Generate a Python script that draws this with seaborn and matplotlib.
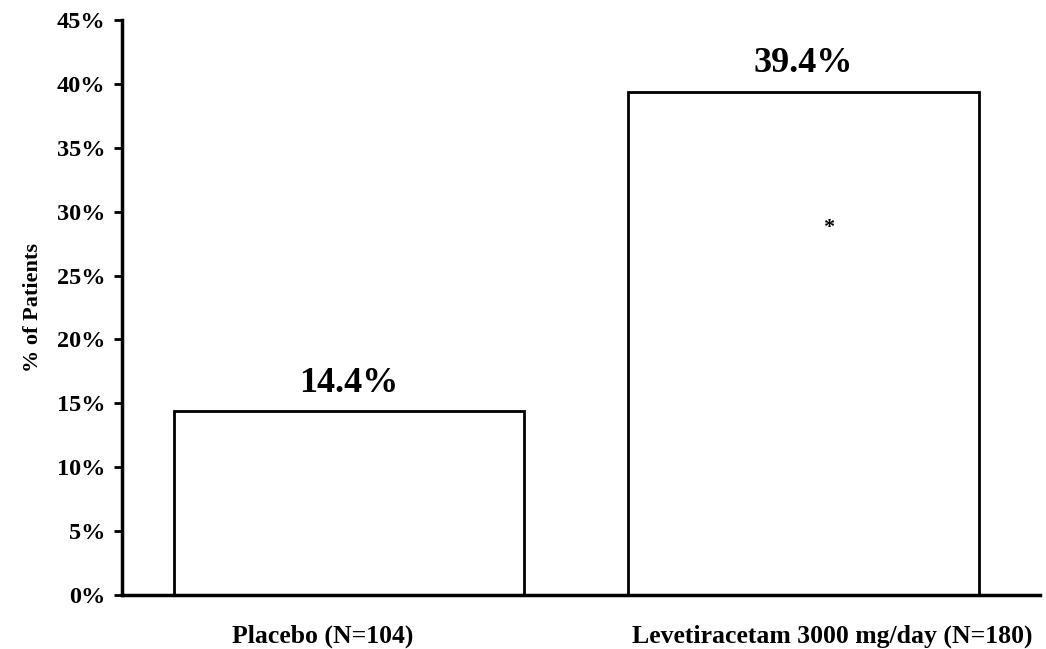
import matplotlib
matplotlib.use('Agg')
import matplotlib.pyplot as plt
import matplotlib.transforms as mtransforms
import seaborn as sns
import pandas as pd
from matplotlib.ticker import PercentFormatter

# ── Data ──────────────────────────────────────────────────────────────────────
groups = ['Placebo (N=104)', 'Levetiracetam 3000 mg/day (N=180)']
pct_patients = [14.4, 39.4]
bar_labels = ['14.4%', '39.4%']
significant = [False, True]

df = pd.DataFrame({'group': groups, 'pct': pct_patients})

# ── Style ─────────────────────────────────────────────────────────────────────
sns.set_theme(style='white')
plt.rcParams['font.family'] = ['Liberation Serif', 'DejaVu Serif']
plt.rcParams['font.weight'] = 'bold'
plt.rcParams['text.color'] = 'black'
plt.rcParams['axes.labelcolor'] = 'black'
plt.rcParams['xtick.color'] = 'black'
plt.rcParams['ytick.color'] = 'black'

fig = plt.figure(figsize=(10.46, 6.49), dpi=100)
ax = fig.add_axes([0.1166, 0.0832, 0.8774, 0.8858])

sns.barplot(data=df, x='group', y='pct', ax=ax, color='white',
            edgecolor='black', linewidth=2, width=0.771, saturation=1)

for i, (val, lab, sig) in enumerate(zip(pct_patients, bar_labels, significant)):
    ax.text(i, val + 0.9, lab, ha='center', va='bottom',
            fontsize=26, fontweight='bold')
    if sig:
        ax.text(i + 0.055, val * 0.73, '*', ha='center', va='center',
                fontsize=16)

ax.set_xlim(-0.5, 1.52)
ax.set_ylim(0, 45)
ax.set_yticks(range(0, 46, 5))
ax.yaxis.set_major_formatter(PercentFormatter(decimals=0))
ax.set_ylabel('% of Patients', fontsize=16, fontweight='bold', labelpad=10)
ax.set_xlabel('')

for side in ['top', 'right']:
    ax.spines[side].set_visible(False)
for side in ['left', 'bottom']:
    ax.spines[side].set_color('black')
    ax.spines[side].set_linewidth(2.5)

ax.tick_params(axis='y', which='major', left=True, length=6, width=2,
               color='black', labelsize=17.5, pad=6)
ax.tick_params(axis='x', bottom=False, labelsize=18.5, pad=15)
for t in ax.get_xticklabels() + ax.get_yticklabels():
    t.set_fontweight('bold')

# category labels sit slightly off-centre in the original
for t, dx in zip(ax.get_xticklabels(), [-26, 29]):
    t.set_transform(t.get_transform() +
                    mtransforms.ScaledTranslation(dx / 100, 0, fig.dpi_scale_trans))

fig.savefig('out.png', dpi=100, facecolor='white')
